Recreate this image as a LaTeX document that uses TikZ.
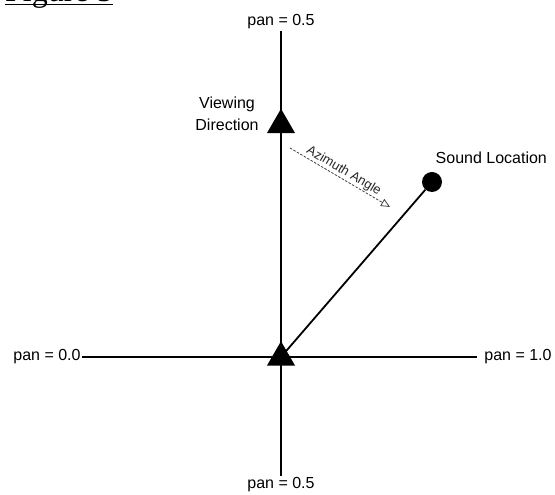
\documentclass[tikz,border=0pt]{standalone}
\usepackage{fontspec}
\setmainfont{Liberation Sans}
\newfontfamily\titlefont{Liberation Serif}
\usetikzlibrary{shapes.geometric,arrows.meta}
\begin{document}
\begin{tikzpicture}[x=1pt,y=1pt,
  lbl/.style={font=\fontsize{16}{22}\selectfont, inner sep=1.5pt},
  axis/.style={line width=1.2pt},
  tri/.style={regular polygon, regular polygon sides=3, minimum size=32.5pt, inner sep=0pt, fill=black},
  dot/.style={circle, fill=black, minimum size=20pt, inner sep=0pt},
  azim/.style={dashed, dash pattern=on 2.5pt off 1.5pt, line width=0.8pt, black!75,
     -{Triangle[open,length=9pt,width=8pt]}}
]
\useasboundingbox (0,0) rectangle (555,495);
% title
\node[font=\titlefont\fontsize{32}{36}\selectfont, anchor=base west, inner sep=0pt] (title) at (5,493) {Figure 5};
\draw[line width=1.7pt] (title.base west |- 0,490.5) -- (title.base east |- 0,490.5);
% labels
\node[lbl] (ptop) at (281,473) {pan = 0.5};
\node[lbl] (pbot) at (281,10) {pan = 0.5};
\node[lbl] (pleft) at (47,138) {pan = 0.0};
\node[lbl] (pright) at (518,138) {pan = 1.0};
% axes
\draw[axis] (ptop) -- (pbot);
\draw[axis, shorten >=6pt] (pleft) -- (pright);
% shapes
\coordinate (o) at (281,138);
\node[dot] (snd) at (432,313) {};
\draw[line width=1.8pt] (o) -- (snd);
\node[tri] (otri) at (281,137.5) {};
\node[tri] (vtri) at (281,370) {};
\node[lbl, align=center] (vlab) at (227,381) {Viewing\\Direction};
\node[lbl, anchor=west] (slab) at (434,337) {Sound Location};
% azimuth arrow
\coordinate (a1) at (290,347);
\coordinate (a2) at (390,288);
\draw[azim] (a1) -- (a2) node[midway, above, sloped, font=\fontsize{13}{15}\selectfont, text=black!85, inner sep=1pt] (alab) {Azimuth Angle};
\end{tikzpicture}
\end{document}
